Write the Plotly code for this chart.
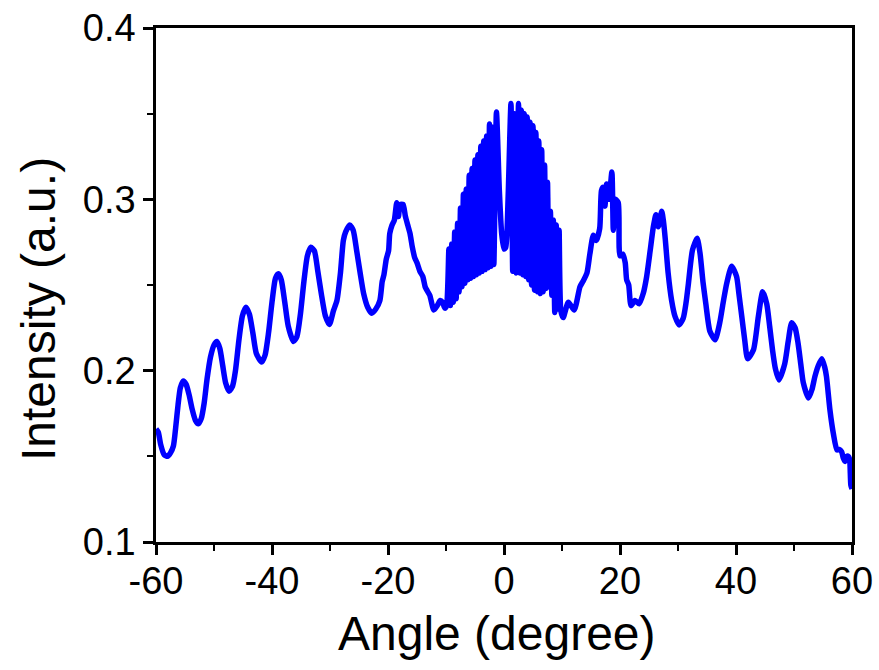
import plotly.graph_objects as go

# Angle (degree) and Intensity (a.u.)
angle_left = [-60, -59.6, -59.2, -58.6, -58.0, -57.5, -57.0, -56.6, -56.2, -55.8, -55.3, -54.8, -54.3, -53.8,
              -53.2, -52.7, -52.2, -51.7, -51.2, -50.6, -50.0, -49.5, -49.0, -48.5, -48.0, -47.4, -46.8, -46.3,
              -45.7, -45.1, -44.5, -43.9, -43.3, -42.7, -41.8, -41.2, -40.6, -40.0, -39.4, -38.9, -38.4, -37.8,
              -37.2, -36.3, -35.7, -35.1, -34.5, -33.9, -33.3, -32.7, -32.1, -31.5, -30.8, -30.1, -29.4, -28.8,
              -28.2, -27.7, -27.3, -26.6, -26.0, -25.4, -24.8, -24.2, -23.5, -22.8, -22.1, -21.4, -21.0, -20.7,
              -20.3, -19.9, -19.7, -19.3, -18.9, -18.5, -18.2, -17.9, -17.4, -17.0, -16.6, -16.2, -15.8, -15.4,
              -15.0, -14.5, -14.0, -13.6, -13.3, -12.8, -12.1, -11.5, -11.0, -10.6, -10.2, -9.9]
intensity_left = [0.166, 0.164, 0.157, 0.151, 0.150, 0.152, 0.156, 0.167, 0.180, 0.190, 0.194, 0.192, 0.186, 0.178,
                  0.171, 0.169, 0.172, 0.181, 0.195, 0.208, 0.215, 0.217, 0.213, 0.203, 0.193, 0.188, 0.191, 0.200,
                  0.218, 0.232, 0.237, 0.233, 0.222, 0.210, 0.205, 0.209, 0.222, 0.240, 0.254, 0.2565, 0.253, 0.240,
                  0.226, 0.217, 0.220, 0.233, 0.252, 0.267, 0.272, 0.270, 0.258, 0.245, 0.232, 0.227, 0.235, 0.241,
                  0.257, 0.276, 0.281, 0.285, 0.282, 0.270, 0.257, 0.245, 0.237, 0.2335, 0.236, 0.241, 0.252, 0.256,
                  0.265, 0.270, 0.280, 0.285, 0.288, 0.298, 0.290, 0.297, 0.297, 0.290, 0.285, 0.280, 0.272, 0.266,
                  0.263, 0.258, 0.255, 0.249, 0.247, 0.244, 0.2354, 0.238, 0.241, 0.240, 0.2365, 0.238]

angle_center = [-9.5, -9.25, -9.0, -8.75, -8.5, -8.25, -8.0, -7.75, -7.5, -7.25, -7.0, -6.75, -6.5, -6.25,
                -6.0, -5.75, -5.5, -5.25, -5.0, -4.75, -4.5, -4.25, -4.0, -3.75, -3.5, -3.25, -3.0, -2.75,
                -2.5, -2.25, -2.0, -1.75, -1.3, -0.8, -0.4, 0.0, 0.3, 0.7, 1.2, 1.5, 1.8, 2.1, 2.5, 2.75,
                3.0, 3.25, 3.5, 3.75, 4.0, 4.25, 4.5, 4.75, 5.0, 5.25, 5.5, 5.75, 6.0, 6.25, 6.5, 6.75,
                7.0, 7.25, 7.5, 7.75, 8.0, 8.25, 8.5, 8.75, 9.0, 9.25, 9.5, 9.8, 10.2]
intensity_center = [0.271, 0.238, 0.274, 0.240, 0.281, 0.242, 0.286, 0.246, 0.295, 0.249, 0.303, 0.251, 0.306, 0.253,
                    0.314, 0.254, 0.318, 0.255, 0.323, 0.256, 0.326, 0.257, 0.331, 0.258, 0.334, 0.259, 0.337, 0.260,
                    0.344, 0.261, 0.342, 0.262, 0.351, 0.305, 0.280, 0.271, 0.272, 0.300, 0.356, 0.258, 0.350, 0.257,
                    0.356, 0.257, 0.352, 0.256, 0.350, 0.255, 0.348, 0.253, 0.345, 0.250, 0.343, 0.247, 0.339, 0.246,
                    0.334, 0.245, 0.329, 0.246, 0.320, 0.248, 0.310, 0.249, 0.293, 0.244, 0.288, 0.234, 0.285, 0.236,
                    0.282, 0.235, 0.231]

angle_right = [11.1, 12.1, 13.1, 13.6, 14.3, 14.8, 15.4, 15.9, 16.5, 16.8, 17.1, 17.4, 17.7, 18.1, 18.6, 18.85,
               19.2, 19.7, 20.0, 20.5, 20.9, 21.15, 21.5, 21.9, 22.6, 23.3, 24.0, 24.6, 25.2, 25.75, 26.2, 26.6,
               27.2, 27.5, 27.8, 28.3, 28.9, 29.5, 30.2, 30.9, 31.4, 31.8, 32.5, 33.3, 33.8, 34.3, 34.8, 35.5,
               36.4, 37.2, 37.8, 38.4, 39.25, 40.1, 40.5, 41.0, 41.5, 42.0, 43.0, 43.85, 44.6, 45.3, 45.8, 46.3,
               46.8, 47.4, 48.4, 49.0, 49.6, 50.2, 50.7, 51.2, 51.6, 52.5, 53.1, 53.6, 54.2, 54.8, 55.3, 55.6,
               56.2, 56.8, 57.4, 57.8, 58.2, 58.5, 58.8, 59.1, 59.4, 59.6, 59.8, 60.0]
intensity_right = [0.240, 0.2354, 0.249, 0.252, 0.257, 0.268, 0.279, 0.276, 0.283, 0.305, 0.307, 0.296, 0.309, 0.300,
                   0.316, 0.282, 0.300, 0.298, 0.267, 0.268, 0.263, 0.253, 0.250, 0.238, 0.241, 0.239, 0.245, 0.255,
                   0.270, 0.284, 0.291, 0.284, 0.293, 0.287, 0.277, 0.257, 0.241, 0.2315, 0.2267, 0.2306, 0.240, 0.251,
                   0.2705, 0.2773, 0.2685, 0.252, 0.239, 0.223, 0.218, 0.228, 0.240, 0.251, 0.261, 0.255, 0.245, 0.2315,
                   0.218, 0.207, 0.212, 0.2315, 0.246, 0.239, 0.226, 0.212, 0.201, 0.1946, 0.204, 0.217, 0.228, 0.225,
                   0.216, 0.203, 0.193, 0.184, 0.189, 0.1965, 0.203, 0.207, 0.202, 0.1965, 0.177, 0.163, 0.1537, 0.154,
                   0.1527, 0.149, 0.147, 0.150, 0.1498, 0.148, 0.1333, 0.131]

x_ticks = [-60, -40, -20, 0, 20, 40, 60]
y_ticks = [0.1, 0.2, 0.3, 0.4]
y_tick_labels = ["0.1", "0.2", "0.3", "0.4"]

angle = angle_left + angle_center + angle_right
intensity = intensity_left + intensity_center + intensity_right

FONT = "Liberation Sans, Arial, sans-serif"
TICK_SIZE = 38
TITLE_SIZE = 48

L, R, T, B = 156, 27, 28, 128
W, H = 879, 670
plot_w = W - L - R
plot_h = H - T - B

fig = go.Figure()
fig.add_trace(go.Scatter(x=angle, y=intensity, mode="lines",
                         line=dict(color="#0000FF", width=5.5, shape="spline", smoothing=0.6),
                         showlegend=False))

fig.update_layout(
    width=W, height=H,
    margin=dict(l=L, r=R, t=T, b=B, autoexpand=False),
    paper_bgcolor="white", plot_bgcolor="white",
    font=dict(family=FONT, color="black", size=TICK_SIZE),
    xaxis=dict(range=[-60, 60], tickvals=x_ticks, ticktext=[str(v) for v in x_ticks],
               ticks="outside", ticklen=10, tickwidth=2.5, tickcolor="black", automargin=False,
               ticklabelstandoff=-6,
               minor=dict(dtick=10, tick0=0, ticks="outside", ticklen=6, tickwidth=2, tickcolor="black"),
               showline=True, linecolor="black", linewidth=2.5, mirror=True,
               showgrid=False, zeroline=False, tickfont=dict(size=TICK_SIZE, family=FONT)),
    yaxis=dict(range=[0.1, 0.4], tickvals=y_ticks, ticktext=y_tick_labels,
               ticks="outside", ticklen=10, tickwidth=2.5, tickcolor="black", automargin=False,
               minor=dict(dtick=0.05, tick0=0, ticks="outside", ticklen=6, tickwidth=2, tickcolor="black"),
               showline=True, linecolor="black", linewidth=2.5, mirror=True,
               showgrid=False, zeroline=False, tickfont=dict(size=TICK_SIZE, family=FONT)),
    annotations=[
        dict(text="Angle (degree)", x=(497 - L) / plot_w, y=(H - B - 633) / plot_h,
             xref="paper", yref="paper", showarrow=False,
             font=dict(size=TITLE_SIZE, family=FONT), xanchor="center", yanchor="middle"),
        dict(text="Intensity (a.u.)", x=(38 - L) / plot_w, y=(H - B - 309) / plot_h,
             xref="paper", yref="paper", showarrow=False, textangle=-90,
             font=dict(size=TITLE_SIZE, family=FONT), xanchor="center", yanchor="middle"),
    ],
)

fig.write_html("out.html")
